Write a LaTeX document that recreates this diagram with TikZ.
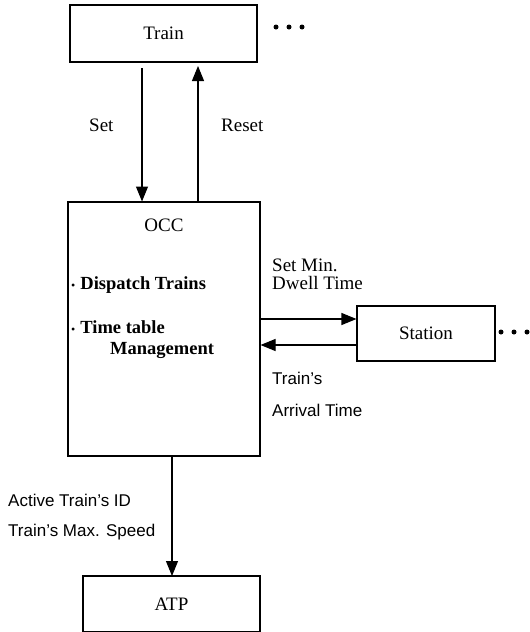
\documentclass[tikz,border=0pt]{standalone}
\usepackage{fontspec}
\setmainfont{Liberation Serif}
\newfontfamily\labsans{Liberation Sans}
\usetikzlibrary{arrows.meta}
\begin{document}
\begin{tikzpicture}[x=1pt,y=-1pt,
  box/.style={draw,line width=1.1pt,inner sep=0pt,font=\fontsize{19}{22}\selectfont},
  ser/.style={inner sep=0pt,anchor=west,font=\fontsize{19}{22}\selectfont},
  bser/.style={inner sep=0pt,anchor=west,font=\fontsize{18.5}{22}\selectfont\bfseries},
  sans/.style={inner sep=0pt,anchor=west,font=\labsans\fontsize{17}{20}\selectfont},
  arr/.style={line width=1.1pt,-{Triangle[length=15pt,width=12pt]}},
  dot/.style={circle,fill,inner sep=0pt,minimum size=5pt}]
\useasboundingbox (0,0) rectangle (530,632);
% boxes
\node[box,minimum width=187pt,minimum height=57pt] (train) at (163.5,33.5) {Train};
\node[box,minimum width=192pt,minimum height=254pt] (occ) at (164,329) {};
\node[box,minimum width=138pt,minimum height=55pt] (station) at (426,333.5) {Station};
\node[box,minimum width=177pt,minimum height=56pt] (atp) at (171.5,604) {ATP};
% OCC contents
\node[inner sep=0pt,font=\fontsize{19}{22}\selectfont] (occt) at (164,225) {OCC};
\node[bser] (disp) at (71,285) {{\mdseries\fontsize{12}{12}\selectfont\textbullet}\hspace{5pt}Dispatch Trains};
\node[bser] (tt) at (71,327) {{\mdseries\fontsize{12}{12}\selectfont\textbullet}\hspace{5pt}Time table};
\node[bser] (mgmt) at (110,350) {Management};
% dots
\node[dot] (d1) at (276,27) {};
\node[dot] (d2) at (289,27) {};
\node[dot] (d3) at (302,27) {};
\node[dot] (e1) at (501,332) {};
\node[dot] (e2) at (514,332) {};
\node[dot] (e3) at (527,332) {};
% arrows
\coordinate (setS) at (142,68);
\coordinate (setE) at (142,201.5);
\draw[arr] (setS) -- (setE);
\coordinate (rstS) at (198,201.5);
\coordinate (rstE) at (198,66);
\draw[arr] (rstS) -- (rstE);
\coordinate (o1) at (occ.east |- 0,319);
\coordinate (s1) at (station.west |- 0,319);
\draw[arr] (o1) -- (s1);
\coordinate (o2) at (occ.east |- 0,345);
\coordinate (s2) at (station.west |- 0,345);
\draw[arr] (s2) -- (o2);
\coordinate (ob) at (172,456);
\coordinate (at) at (172,576);
\draw[arr] (ob) -- (at);
% labels
\node[ser] (lset) at (89,125) {Set};
\node[ser] (lreset) at (221,125) {Reset};
\node[ser] (lmin) at (272,265) {Set Min.};
\node[ser] (ldwell) at (272,283) {Dwell Time};
\node[sans] (ltr) at (272,378) {Train’s};
\node[sans] (larr) at (272,410) {Arrival Time};
\node[sans] (lid) at (8,500) {Active Train’s ID};
\node[sans] (lmax) at (8,532) {Train’s Max. Speed};
\end{tikzpicture}
\end{document}
